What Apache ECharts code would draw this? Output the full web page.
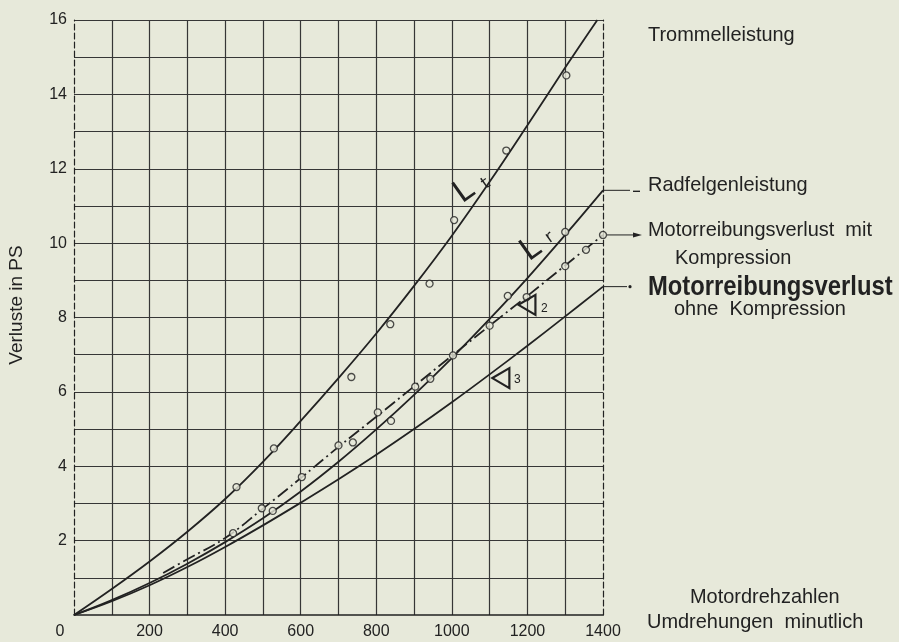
<!DOCTYPE html>
<html>
<head>
<meta charset="utf-8">
<script src="https://cdn.jsdelivr.net/npm/echarts@6/dist/echarts.min.js"></script>
<style>
  html, body { margin: 0; padding: 0; background: #e7e9da; }
  #chart { width: 899px; height: 642px; }
</style>
</head>
<body>
<div id="chart"></div>
<script>
// Labelled tick values
const xTicks = [0, 200, 400, 600, 800, 1000, 1200, 1400];
const yTicks = [2, 4, 6, 8, 10, 12, 14, 16];

// Trommelleistung L_t: faired curve and measured points  [U/min, PS]
const drumCurve = [[0, 0], [100, 0.7], [200, 1.44], [300, 2.24], [400, 3.12], [500, 4.12], [600, 5.22], [700, 6.37], [800, 7.57], [900, 8.85], [1000, 10.2], [1100, 11.65], [1200, 13.17], [1300, 14.72], [1385, 16]];
const drumPoints = [[430, 3.44], [529, 4.48], [734, 6.4], [837, 7.82], [941, 8.91], [1006, 10.62], [1144, 12.49], [1303, 14.51]];

// Radfelgenleistung L_r
const rimCurve = [[0, 0], [100, 0.4], [200, 0.86], [300, 1.38], [400, 1.96], [500, 2.6], [600, 3.32], [700, 4.12], [800, 4.99], [900, 5.92], [1000, 6.91], [1100, 7.96], [1200, 9.06], [1300, 10.22], [1400, 11.42]];
const rimPoints = [[526, 2.8], [738, 4.64], [839, 5.22], [943, 6.35], [1148, 8.58], [1300, 10.3]];

// Motorreibungsverlust mit Kompression (dash-dot)
const compCurve = [[236, 1.13], [300, 1.5], [400, 2.07], [500, 2.86], [600, 3.68], [700, 4.52], [800, 5.33], [900, 6.15], [1000, 6.97], [1100, 7.78], [1200, 8.58], [1300, 9.4], [1400, 10.22]];
const compPoints = [[421, 2.2], [497, 2.87], [603, 3.71], [700, 4.56], [804, 5.45], [903, 6.14], [1003, 6.98], [1100, 7.78], [1198, 8.55], [1300, 9.38], [1355, 9.82], [1400, 10.22]];

// Motorreibungsverlust ohne Kompression
const noCompCurve = [[0, 0], [100, 0.37], [200, 0.8], [300, 1.29], [400, 1.83], [500, 2.41], [600, 3.02], [700, 3.65], [800, 4.31], [900, 5.0], [1000, 5.72], [1100, 6.47], [1200, 7.24], [1300, 8.03], [1400, 8.83]];

const paper = '#e7e9da';
const ink = '#222222';
const gridInk = '#363636';
const sans = '"Liberation Sans", Arial, sans-serif';

const curveStyle = { color: ink, width: 1.8 };
const pointStyle = { color: paper, borderColor: ink, borderWidth: 1.3 };

function curve(data, extra) {
  return Object.assign({
    type: 'line', data: data, smooth: 0.4, showSymbol: false,
    lineStyle: Object.assign({}, curveStyle), z: 3, silent: true
  }, extra || {});
}
function points(data) {
  return { type: 'scatter', data: data, symbol: 'circle', symbolSize: 7, itemStyle: pointStyle, z: 5, silent: true };
}

const chart = echarts.init(document.getElementById('chart'), null, { renderer: 'canvas' });

chart.setOption({
  backgroundColor: paper,
  animation: false,
  grid: { left: 74, right: 296, top: 20, bottom: 27 },
  xAxis: {
    type: 'value', min: 0, max: 1400, interval: 100,
    axisLine: { show: true, lineStyle: { color: ink, width: 1.5 } },
    axisTick: { show: false },
    axisLabel: {
      margin: 9, color: ink, fontSize: 16, fontFamily: sans,
      formatter: v => xTicks.includes(v) ? (v === 0 ? '{o|0}' : String(v)) : '',
      rich: { o: { padding: [0, 28, 0, 0], fontSize: 16, fontFamily: sans, color: ink } }
    },
    splitLine: { show: true, showMinLine: false, showMaxLine: false, lineStyle: { color: gridInk, width: 1.2 } }
  },
  yAxis: [{
    type: 'value', min: 0, max: 16, interval: 1,
    axisLine: { show: true, lineStyle: { color: ink, width: 1.2, type: [6, 3] } },
    axisTick: { show: false },
    axisLabel: {
      margin: 7, color: ink, fontSize: 16, fontFamily: sans, padding: [0, 0, 8, 0],
      formatter: v => yTicks.includes(v) ? String(v) : ''
    },
    splitLine: { show: true, showMinLine: false, lineStyle: { color: gridInk, width: 1.2 } }
  }, {
    type: 'value', min: 0, max: 16, interval: 1, position: 'right',
    axisLine: { show: true, lineStyle: { color: ink, width: 1.2, type: [6, 3] } },
    axisTick: { show: false }, axisLabel: { show: false }, splitLine: { show: false }
  }],
  series: [
    curve(drumCurve),
    curve(rimCurve),
    curve(compCurve, { lineStyle: { color: ink, width: 1.8, type: [13, 4, 2, 4] } }),
    curve(noCompCurve),
    points(drumPoints),
    points(rimPoints),
    points(compPoints)
  ]
});

// Annotations placed from data coordinates
const px = p => chart.convertToPixel({ gridIndex: 0 }, p);
const g = [];

function label(x, y, text, opt, scaleX) {
  g.push({
    type: 'text', x: x, y: y, z: 20, silent: true, scaleX: scaleX || 1,
    style: Object.assign({ text: text, fill: ink, fontSize: 21, fontFamily: sans, align: 'left', verticalAlign: 'middle' }, opt || {})
  });
}

// Curve letters L_t, L_r
function tilted(p, text, size) {
  const q = px(p);
  g.push({ type: 'text', x: q[0], y: q[1], rotation: 0.62, z: 20, silent: true,
    style: { text: text, fill: ink, fontSize: size, fontFamily: '"DejaVu Sans", sans-serif', align: 'center', verticalAlign: 'middle' } });
}
tilted([1033, 11.37], 'L', 31);
tilted([1090, 11.6], 't', 17);
tilted([1210, 9.81], 'L', 31);
tilted([1259, 10.15], 'r', 17);

// Loss symbols (open triangles with index)
function lossSymbol(p, idx, ip) {
  const c = px(p);
  g.push({ type: 'polygon', z: 20, silent: true,
    shape: { points: [[c[0] + 8, c[1] - 10], [c[0] - 9, c[1]], [c[0] + 8, c[1] + 10]] },
    style: { fill: 'none', stroke: ink, lineWidth: 2.2, lineJoin: 'miter' } });
  const t = px(ip);
  g.push({ type: 'text', x: t[0], y: t[1], z: 20, silent: true,
    style: { text: idx, fill: ink, fontSize: 12, fontFamily: sans, align: 'center', verticalAlign: 'middle' } });
}
lossSymbol([1200, 8.34], '2', [1245, 8.25]);
lossSymbol([1131, 6.37], '3', [1173, 6.32]);

// Leader lines from curve ends to the captions
const rimEnd = px(rimCurve[rimCurve.length - 1]);
g.push({ type: 'line', silent: true, shape: { x1: rimEnd[0], y1: rimEnd[1], x2: rimEnd[0] + 27, y2: rimEnd[1] }, style: { stroke: ink, lineWidth: 1 } });
g.push({ type: 'line', silent: true, shape: { x1: rimEnd[0] + 30, y1: rimEnd[1] + 1, x2: rimEnd[0] + 37, y2: rimEnd[1] + 1 }, style: { stroke: ink, lineWidth: 1.4 } });

const compEnd = px(compPoints[compPoints.length - 1]);
g.push({ type: 'line', silent: true, shape: { x1: compEnd[0] + 4, y1: compEnd[1], x2: compEnd[0] + 32, y2: compEnd[1] }, style: { stroke: ink, lineWidth: 1 } });
g.push({ type: 'polygon', silent: true, shape: { points: [[compEnd[0] + 39, compEnd[1]], [compEnd[0] + 30, compEnd[1] - 2.5], [compEnd[0] + 30, compEnd[1] + 2.5]] }, style: { fill: ink } });

const noCompEnd = px(noCompCurve[noCompCurve.length - 1]);
g.push({ type: 'line', silent: true, shape: { x1: noCompEnd[0], y1: noCompEnd[1], x2: noCompEnd[0] + 24, y2: noCompEnd[1] }, style: { stroke: ink, lineWidth: 1 } });
g.push({ type: 'circle', silent: true, shape: { cx: noCompEnd[0] + 27, cy: noCompEnd[1], r: 1.6 }, style: { fill: ink } });

// Captions (slightly condensed)
label(648, 35, 'Trommelleistung', null, 0.95);
label(648, 185, 'Radfelgenleistung', null, 0.95);
label(648, 230, 'Motorreibungsverlust  mit', null, 0.95);
label(675, 258, 'Kompression', null, 0.95);
label(648, 287, 'Motorreibungsverlust', { fontSize: 28, fontWeight: 'bold' }, 0.85);
label(674, 309, 'ohne  Kompression', null, 0.95);
label(690, 597, 'Motordrehzahlen', null, 0.95);
label(647, 622, 'Umdrehungen  minutlich', null, 0.95);

// Vertical axis title
g.push({ type: 'text', x: 17, y: 305, rotation: Math.PI / 2, z: 20, silent: true,
  style: { text: 'Verluste in PS', fill: ink, fontSize: 19, fontFamily: sans, align: 'center', verticalAlign: 'middle' } });

chart.setOption({ graphic: g });
</script>
</body>
</html>
